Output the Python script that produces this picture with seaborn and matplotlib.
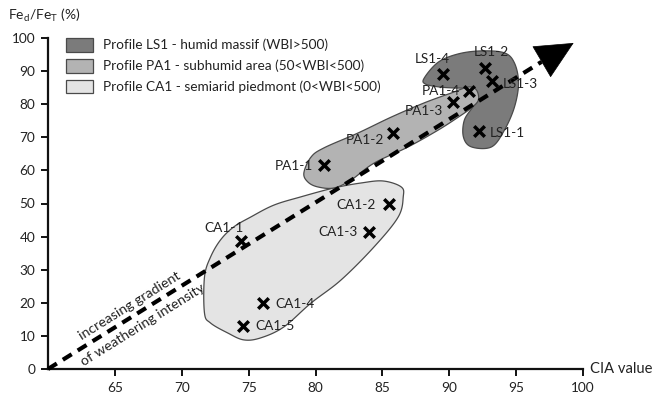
import numpy as np
import pandas as pd
import matplotlib
matplotlib.use("Agg")
import matplotlib.pyplot as plt
import seaborn as sns
from matplotlib.patches import Patch

# ---------------- data ----------------
samples = ["LS1-1", "LS1-2", "LS1-3", "LS1-4",
           "PA1-1", "PA1-2", "PA1-3", "PA1-4",
           "CA1-1", "CA1-2", "CA1-3", "CA1-4", "CA1-5"]
cia = [92.2, 92.7, 93.2, 89.5,
       80.6, 85.8, 90.3, 91.5,
       74.4, 85.5, 84.0, 76.1, 74.6]
fed_fet = [72.0, 91.0, 87.0, 89.0,
           61.5, 71.3, 80.6, 84.0,
           38.6, 49.8, 41.5, 20.0, 13.0]

# envelope outlines of the three profiles (CIA, Fed/FeT)
ls1_x = [88.13, 89.18, 90.68, 92.41, 94.13, 94.88, 95.18, 94.88, 94.13, 93.16,
         91.66, 91.06, 91.13, 91.81, 92.11, 91.36, 90.31, 89.26, 88.21]
ls1_y = [87.9, 92.7, 95.2, 96.1, 95.5, 92.4, 86.4, 79.2, 72.2, 67.1,
         67.1, 70.1, 75.2, 79.5, 82.5, 84.6, 84.9, 85.2, 86.1]
pa1_x = [79.13, 79.66, 80.63, 83.18, 85.66, 88.13, 90.16, 91.43, 92.03, 92.18,
         91.66, 90.68, 89.18, 86.93, 84.38, 82.66, 81.38, 80.18, 79.43]
pa1_y = [59.2, 64.0, 66.8, 71.3, 76.1, 80.4, 83.4, 85.2, 84.3, 81.3,
         78.9, 76.1, 72.2, 67.1, 62.2, 57.1, 54.7, 55.0, 56.5]
ca1_x = [85.06, 86.41, 86.56, 86.18, 84.38, 81.91, 79.66, 77.63, 75.90, 74.63,
         73.43, 72.15, 71.70, 71.70, 72.15, 72.90, 73.88, 75.15, 76.88, 78.90,
         81.38, 83.41]
ca1_y = [56.8, 55.0, 52.0, 45.9, 36.9, 26.9, 19.9, 12.7, 9.4, 8.8,
         10.9, 13.9, 16.9, 27.8, 33.8, 39.0, 42.9, 45.9, 49.5, 52.0,
         54.7, 56.2]

legend_labels = ["Profile LS1 - humid massif (WBI>500)",
                 "Profile PA1 - subhumid area (50<WBI<500)",
                 "Profile CA1 - semiarid piedmont (0<WBI<500)"]
x_ticks = [65, 70, 75, 80, 85, 90, 95, 100]
y_ticks = [0, 10, 20, 30, 40, 50, 60, 70, 80, 90, 100]

# trend arrow: start, head base, tip
arrow_start = (60.0, 0.0)
arrow_base = (96.9, 92.8)
arrow_tip = (99.3, 98.5)

# ---------------- styles ----------------
# label offsets in pixels (dx, dy) and alignment
label_style = {
    "LS1-1": (11, -2, "left"), "LS1-2": (6, 16, "center"),
    "LS1-3": (11, -3, "left"), "LS1-4": (-10, 15, "center"),
    "PA1-1": (-11, -1, "right"), "PA1-2": (-9, -7, "right"),
    "PA1-3": (-10, -9, "right"), "PA1-4": (-9, 0, "right"),
    "CA1-1": (-17, 13, "center"), "CA1-2": (-13, -1, "right"),
    "CA1-3": (-11, 0, "right"), "CA1-4": (12, -1, "left"),
    "CA1-5": (12, 0, "left"),
}
c_ls1, c_pa1, c_ca1 = "#7b7b7b", "#b3b3b3", "#e4e4e4"
edge = "#4a4a4a"
txt = "#222222"

sns.set_theme(style="ticks")
plt.rcParams["font.family"] = ["Lato", "DejaVu Sans"]
plt.rcParams["mathtext.fontset"] = "custom"
plt.rcParams["mathtext.rm"] = "Lato"

fig = plt.figure(figsize=(6.54, 4.03), dpi=100)
ax = fig.add_axes([48 / 654, 1 - 369 / 403, (583 - 48) / 654, (369 - 38) / 403])


def smooth_closed(xs, ys, n=16):
    p = np.column_stack([xs, ys])
    N = len(p)
    out = []
    for i in range(N):
        p0, p1, p2, p3 = p[i - 1], p[i], p[(i + 1) % N], p[(i + 2) % N]
        for t in np.linspace(0, 1, n, endpoint=False):
            t2, t3 = t * t, t * t * t
            out.append(0.5 * ((2 * p1) + (-p0 + p2) * t +
                              (2 * p0 - 5 * p1 + 4 * p2 - p3) * t2 +
                              (-p0 + 3 * p1 - 3 * p2 + p3) * t3))
    out = np.array(out)
    return out[:, 0], out[:, 1]


for xs, ys, col, z in [(ca1_x, ca1_y, c_ca1, 1), (ls1_x, ls1_y, c_ls1, 2),
                       (pa1_x, pa1_y, c_pa1, 3)]:
    sx, sy = smooth_closed(xs, ys)
    ax.fill(sx, sy, facecolor=col, edgecolor=edge, linewidth=0.9, zorder=z)

# dashed trend line and arrow head
ax.plot([arrow_start[0], arrow_base[0]], [arrow_start[1], arrow_base[1]],
        color="black", linewidth=3.0, dashes=(2.5, 1.7), zorder=4,
        solid_capstyle="butt", dash_capstyle="butt", clip_on=False)
ax.annotate("", xy=arrow_tip, xytext=arrow_base,
            arrowprops=dict(arrowstyle="-|>,head_length=2.6,head_width=1.25",
                            color="black", linewidth=0.5,
                            shrinkA=0, shrinkB=0, mutation_scale=10),
            zorder=5, annotation_clip=False)

df = pd.DataFrame({"sample": samples, "cia": cia, "fe": fed_fet})
sns.scatterplot(data=df, x="cia", y="fe", marker="x", s=58, color="black",
                linewidth=2.5, ax=ax, zorder=6, legend=False)

for name, x, y in zip(samples, cia, fed_fet):
    dx, dy, ha = label_style[name]
    ax.annotate(name, (x, y), xytext=(dx, dy), textcoords="offset pixels",
                ha=ha, va="center", fontsize=9.8, color=txt, zorder=7)

ax.text(66.1, 19.2, "increasing gradient", rotation=32, rotation_mode="anchor",
        ha="center", va="center", fontsize=10.2, color=txt)
ax.text(67.1, 13.4, "of weathering intensity", rotation=32, rotation_mode="anchor",
        ha="center", va="center", fontsize=10.2, color=txt)

ax.set_xlim(60, 100)
ax.set_ylim(0, 100)
ax.set_xticks(x_ticks)
ax.set_yticks(y_ticks)
ax.set_xlabel("")
ax.set_ylabel("")
for s in ["top", "right"]:
    ax.spines[s].set_visible(False)
for s in ["left", "bottom"]:
    ax.spines[s].set_linewidth(1.6)
    ax.spines[s].set_color("#111111")
ax.tick_params(axis="both", length=5, width=1.4, color="#111111",
               labelsize=9.8, labelcolor=txt, pad=4)

fig.text(8 / 654, 1 - 15 / 403, r"Fe$_\mathregular{d}$/Fe$_\mathregular{T}$ (%)",
         fontsize=10, color=txt, ha="left", va="center")
fig.text(590 / 654, 1 - 369 / 403, "CIA value", fontsize=10.6, color=txt,
         ha="left", va="center")

handles = [Patch(facecolor=c, edgecolor=edge, linewidth=0.9)
           for c in (c_ls1, c_pa1, c_ca1)]
ax.legend(handles, legend_labels, loc="upper left",
          bbox_to_anchor=(66 / 654, 1 - 38 / 403), bbox_transform=fig.transFigure,
          frameon=False, fontsize=9.8, handlelength=2.0, handleheight=1.15,
          handletextpad=0.7, labelspacing=0.55, borderpad=0, borderaxespad=0,
          labelcolor=txt)

fig.savefig("out.png", dpi=100)
